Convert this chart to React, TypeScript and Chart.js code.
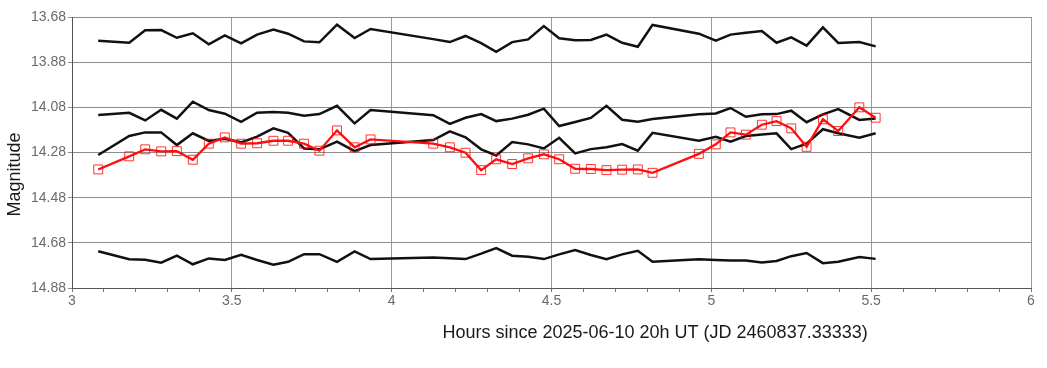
import React, { useEffect, useRef } from "react";
import { Chart, registerables } from "chart.js";

Chart.register(...registerables);

// Observation times (hours since 2025-06-10 20h UT)
const hours = [
  3.082, 3.179, 3.229, 3.279, 3.328, 3.378, 3.428, 3.478, 3.529, 3.579,
  3.630, 3.676, 3.726, 3.774, 3.829, 3.884, 3.934, 4.130, 4.182, 4.231,
  4.280, 4.327, 4.377, 4.427, 4.476, 4.524, 4.574, 4.623, 4.672, 4.721,
  4.770, 4.816, 4.961, 5.014, 5.060, 5.108, 5.158, 5.204, 5.250, 5.298,
  5.349, 5.397, 5.463, 5.514,
];

// Target star (red squares)
const targetMag = [
  14.355, 14.297, 14.266, 14.275, 14.274, 14.312, 14.241, 14.213, 14.241, 14.239,
  14.228, 14.228, 14.241, 14.272, 14.182, 14.257, 14.222, 14.241, 14.257, 14.281,
  14.358, 14.310, 14.331, 14.306, 14.288, 14.310, 14.352, 14.353, 14.358, 14.356,
  14.355, 14.370, 14.286, 14.244, 14.191, 14.201, 14.157, 14.141, 14.173, 14.255,
  14.133, 14.185, 14.080, 14.126,
];

// Comparison stars (black lines)
const comp1Mag = [
  13.785, 13.794, 13.739, 13.738, 13.772, 13.752, 13.801, 13.761, 13.797, 13.758,
  13.736, 13.754, 13.788, 13.792, 13.714, 13.773, 13.733, 13.778, 13.791, 13.764,
  13.796, 13.834, 13.791, 13.779, 13.720, 13.774, 13.783, 13.782, 13.758, 13.794,
  13.812, 13.715, 13.754, 13.785, 13.758, 13.750, 13.742, 13.794, 13.770, 13.807,
  13.726, 13.795, 13.791, 13.810,
];
const comp2Mag = [
  14.114, 14.104, 14.138, 14.091, 14.130, 14.055, 14.092, 14.108, 14.144, 14.104,
  14.101, 14.104, 14.117, 14.110, 14.073, 14.151, 14.092, 14.115, 14.153, 14.126,
  14.110, 14.141, 14.130, 14.113, 14.086, 14.163, 14.145, 14.127, 14.073, 14.135,
  14.144, 14.132, 14.111, 14.107, 14.083, 14.122, 14.111, 14.110, 14.095, 14.146,
  14.111, 14.088, 14.136, 14.129,
];
const comp3Mag = [
  14.291, 14.207, 14.191, 14.191, 14.247, 14.195, 14.229, 14.219, 14.235, 14.210,
  14.173, 14.193, 14.262, 14.266, 14.232, 14.274, 14.247, 14.225, 14.186, 14.213,
  14.266, 14.293, 14.234, 14.244, 14.262, 14.215, 14.284, 14.265, 14.257, 14.243,
  14.272, 14.193, 14.228, 14.210, 14.232, 14.207, 14.200, 14.195, 14.265, 14.241,
  14.177, 14.195, 14.215, 14.195,
];
const comp4Mag = [
  14.717, 14.753, 14.755, 14.768, 14.737, 14.775, 14.749, 14.756, 14.733, 14.756,
  14.777, 14.764, 14.730, 14.730, 14.764, 14.718, 14.752, 14.745, 14.748, 14.752,
  14.728, 14.703, 14.737, 14.742, 14.752, 14.731, 14.712, 14.734, 14.752, 14.731,
  14.715, 14.764, 14.753, 14.756, 14.758, 14.758, 14.767, 14.760, 14.739, 14.725,
  14.770, 14.764, 14.743, 14.751,
];

// Axis ticks
const yTicks = [13.68, 13.88, 14.08, 14.28, 14.48, 14.68, 14.88];
const xMajorTicks = [3, 3.5, 4, 4.5, 5, 5.5, 6];
const xMinorStep = 0.1;

const xTitle = "Hours since 2025-06-10 20h UT (JD 2460837.33333)";
const yTitle = "Magnitude";

const FONT = '"Liberation Sans", Arial, Helvetica, sans-serif';

const toPoints = (ys: number[]) => hours.map((h, i) => ({ x: h, y: ys[i] }));

const isMajor = (v: number) => xMajorTicks.some((m) => Math.abs(m - v) < 1e-6);

const titlePlugin = {
  id: "customTitles",
  afterDraw(chart: any) {
    const { ctx, chartArea } = chart;
    ctx.save();
    ctx.fillStyle = "#1a1a1a";
    ctx.font = `18px ${FONT}`;
    ctx.textAlign = "center";
    ctx.textBaseline = "alphabetic";
    const cx = chartArea.left + (chartArea.right - chartArea.left) * 0.608;
    ctx.fillText(xTitle, cx, 337.5);
    ctx.translate(19.5, 174.5);
    ctx.rotate(-Math.PI / 2);
    ctx.fillText(yTitle, 0, 0);
    ctx.restore();
  },
};

export default function App() {
  const ref = useRef<HTMLCanvasElement | null>(null);

  useEffect(() => {
    document.body.style.margin = "0";
    const canvas = ref.current;
    if (!canvas) return;

    const blackLine = (data: number[]) => ({
      data: toPoints(data),
      borderColor: "#111111",
      borderWidth: 2.5,
      pointRadius: 0,
      pointHoverRadius: 0,
      fill: false,
      tension: 0,
      order: 2,
    });

    const chart = new Chart(canvas, {
      type: "line",
      data: {
        datasets: [
          {
            data: toPoints(targetMag),
            borderColor: "#ff1010",
            borderWidth: 2.3,
            pointStyle: "rect",
            pointRadius: 6.3,
            pointBorderWidth: 1,
            pointBorderColor: "rgba(255,0,0,0.8)",
            pointBackgroundColor: "rgba(255,255,255,0)",
            fill: false,
            tension: 0,
            order: 1,
          },
          blackLine(comp1Mag),
          blackLine(comp2Mag),
          blackLine(comp3Mag),
          blackLine(comp4Mag),
        ],
      },
      options: {
        responsive: false,
        animation: false,
        events: [],
        layout: { padding: { top: 17, right: 16, left: 0, bottom: 0 } },
        plugins: {
          legend: { display: false },
          tooltip: { enabled: false },
          title: { display: false },
        },
        scales: {
          x: {
            type: "linear",
            min: 3,
            max: 6,
            afterBuildTicks: (scale: any) => {
              const ticks = [];
              const n = Math.round((6 - 3) / xMinorStep);
              for (let i = 0; i <= n; i++) {
                ticks.push({ value: Math.round((3 + i * xMinorStep) * 10) / 10 });
              }
              scale.ticks = ticks;
            },
            afterFit: (scale: any) => {
              scale.height = 80;
            },
            grid: {
              color: (c: any) =>
                c.tick && isMajor(c.tick.value) ? "#9a9a9a" : "rgba(0,0,0,0)",
              tickColor: "#777777",
              tickLength: 4,
              drawTicks: true,
              lineWidth: 1,
            },
            border: { color: "#555555", width: 1 },
            ticks: {
              autoSkip: false,
              maxRotation: 0,
              minRotation: 0,
              padding: 1,
              color: "#6a6a6a",
              font: { family: FONT, size: 14 },
              callback: (v: any) => (isMajor(Number(v)) ? String(Number(v)) : ""),
            },
          },
          y: {
            type: "linear",
            reverse: true,
            min: 13.68,
            max: 14.88,
            afterBuildTicks: (scale: any) => {
              scale.ticks = yTicks.map((v) => ({ value: v }));
            },
            afterFit: (scale: any) => {
              scale.width = 72;
            },
            grid: {
              color: "#8c8c8c",
              tickColor: "#8c8c8c",
              tickLength: 4,
              drawTicks: true,
              lineWidth: 1,
            },
            border: { color: "#555555", width: 1 },
            ticks: {
              padding: 2,
              color: "#6a6a6a",
              font: { family: FONT, size: 14 },
              callback: (v: any) => Number(v).toFixed(2),
            },
          },
        },
      },
      plugins: [titlePlugin],
    } as any);

    return () => chart.destroy();
  }, []);

  return (
    <div style={{ width: 1047, height: 368 }}>
      <canvas ref={ref} width={1047} height={368} style={{ display: "block" }} />
    </div>
  );
}
